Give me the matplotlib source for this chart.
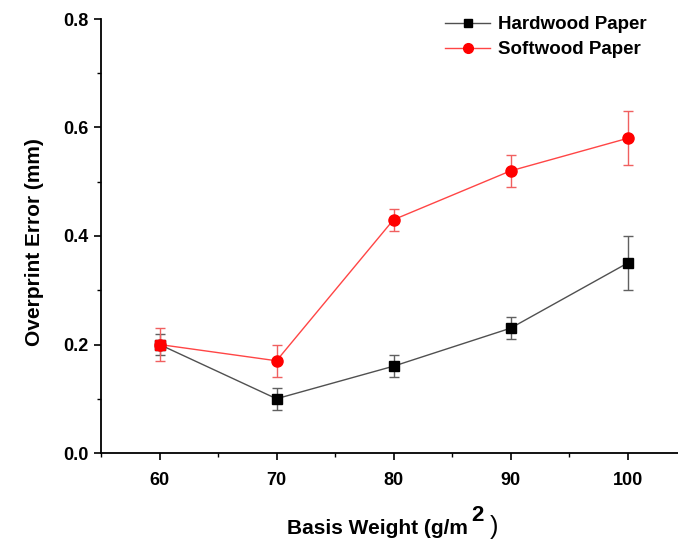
import matplotlib
matplotlib.use("Agg")
import matplotlib.pyplot as plt
from matplotlib.ticker import MultipleLocator
from matplotlib.lines import Line2D

plt.rcParams['font.family'] = ['Liberation Sans', 'DejaVu Sans']
plt.rcParams['font.weight'] = 'bold'

basis_weight = [60, 70, 80, 90, 100]
hardwood = [0.20, 0.10, 0.16, 0.23, 0.35]
hardwood_err = [0.02, 0.02, 0.02, 0.02, 0.05]
softwood = [0.20, 0.17, 0.43, 0.52, 0.58]
softwood_err = [0.03, 0.03, 0.02, 0.03, 0.05]

W, H = 678, 540
fig = plt.figure(figsize=(W / 100, H / 100), dpi=100)
ax = fig.add_axes([101 / W, (H - 453) / H, (686 - 101) / W, (453 - 19) / H])

hw_line = '#505050'
sw_line = '#ff4545'
ax.errorbar(basis_weight, hardwood, yerr=hardwood_err, color=hw_line, lw=1.0,
            ecolor='#606060', elinewidth=1.0, capsize=3.3, capthick=1.0,
            marker='s', ms=6.5, mfc='black', mec='black', zorder=2)
ax.errorbar(basis_weight, softwood, yerr=softwood_err, color=sw_line, lw=1.0,
            ecolor='#f06060', elinewidth=1.0, capsize=3.3, capthick=1.0,
            marker='o', ms=8, mfc='red', mec='red', zorder=3)
ax.plot(basis_weight[:1], softwood[:1], 's', ms=7, color='red', zorder=4)

ax.set_xlim(55, 105)
ax.set_ylim(0, 0.8)
ax.xaxis.set_major_locator(MultipleLocator(10))
ax.xaxis.set_minor_locator(MultipleLocator(5))
ax.yaxis.set_major_locator(MultipleLocator(0.2))
ax.yaxis.set_minor_locator(MultipleLocator(0.1))
ax.yaxis.set_major_formatter(plt.FormatStrFormatter('%.1f'))

for s in ['top', 'right']:
    ax.spines[s].set_visible(False)
for s in ['left', 'bottom']:
    ax.spines[s].set_linewidth(1.3)

ax.tick_params(which='major', direction='out', length=5, width=1.2, labelsize=13, pad=4)
ax.tick_params(which='minor', direction='out', length=3, width=1.0)
ax.tick_params(axis='x', which='major', pad=9)

ax.set_ylabel('Overprint Error (mm)', fontsize=15, fontweight='bold')
ax.yaxis.set_label_coords(-(101 - 44) / 585, 0.486)

# x label with large raised superscript, as in the reference
t1 = fig.text(287 / W, 6 / H, 'Basis Weight (g/m', fontsize=15, fontweight='bold',
              ha='left', va='baseline')
t2 = ax.annotate('2', xy=(1, 0), xycoords=t1, xytext=(3, 12), textcoords='offset pixels',
                 fontsize=16, fontweight='bold', ha='left', va='bottom',
                 annotation_clip=False)
t3 = ax.annotate(')', xy=(1, 0), xycoords=t1, xytext=(22, -1), textcoords='offset pixels',
                 fontsize=18, fontweight='normal', ha='left', va='bottom',
                 annotation_clip=False)

handles = [
    Line2D([], [], color=hw_line, lw=1.0, marker='s', ms=5.5, mfc='black', mec='black'),
    Line2D([], [], color=sw_line, lw=1.0, marker='o', ms=7, mfc='red', mec='red'),
]
fig.legend(handles, ['Hardwood Paper', 'Softwood Paper'], loc='upper left',
           bbox_to_anchor=(445 / W, 1 - 16 / H), frameon=False, fontsize=13.5,
           handlelength=2.4, handletextpad=0.4, labelspacing=0.42,
           borderpad=0, borderaxespad=0)

fig.savefig('out.png', dpi=100)
